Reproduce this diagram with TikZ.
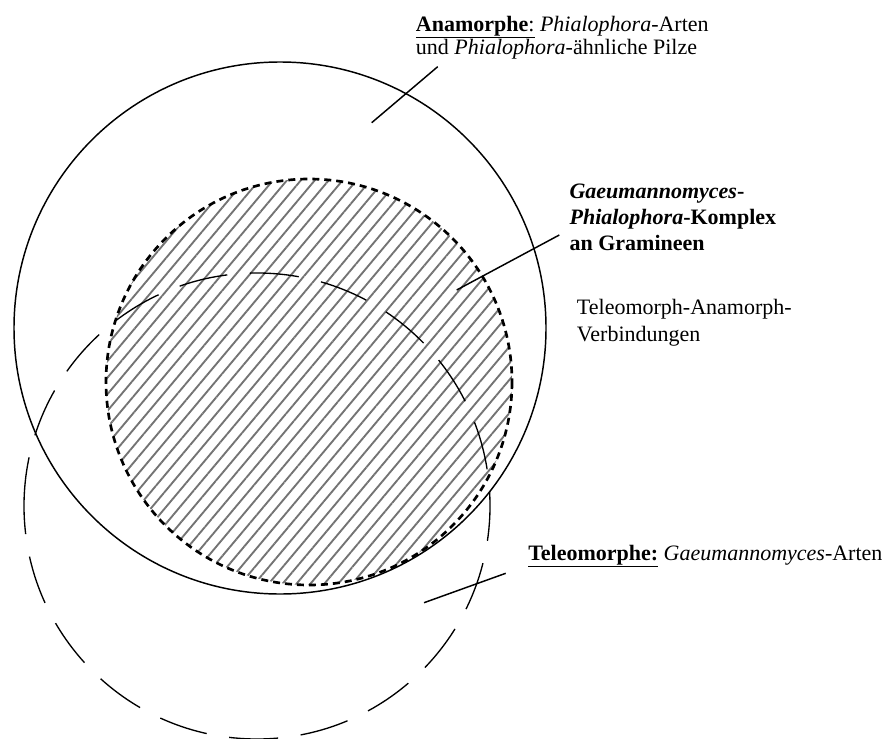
\documentclass[tikz,border=0pt]{standalone}
\usepackage{fontspec}
\setmainfont{Liberation Serif}
\usetikzlibrary{patterns.meta}

\begin{document}
\begin{tikzpicture}[x=0.75pt,y=-0.75pt,
    lbl/.style={anchor=base west,inner sep=0pt,align=left},
    ptr/.style={line width=1.1pt}]
  \useasboundingbox (0,0) rectangle (884,738);
  % Komplex (hatched), then the two big circles
  \fill[pattern={Lines[angle=50,distance=8pt,line width=1.4pt]},pattern color=black!55] (309,382) circle[radius=203];
  \draw[line width=1.1pt] (280,328) circle[radius=266];
  \draw[line width=1pt,dash pattern=on 36.75pt off 17.1pt] (257,506) ++(180:233) arc[start angle=180,end angle=540,radius=233];
  \draw[line width=2pt,dash pattern=on 5.25pt off 3.75pt] (309,382) circle[radius=203];
  % labels (anchored at the baseline of their last line)
  \node[lbl,font=\fontsize{16.5}{15}\selectfont] (ana) at (415.7,55)
    {\underline{\textbf{Anamorphe}:} \textit{Phialophora}-Arten\\und \textit{Phialophora}-ähnliche Pilze};
  \node[lbl,font=\fontsize{16.5}{19.5}\selectfont\bfseries] (gpk) at (569.3,250)
    {\textit{Gaeumannomyces}-\\\textit{Phialophora}-Komplex\\an Gramineen};
  \node[lbl,font=\fontsize{16.5}{20.25}\selectfont] (tav) at (576.7,341)
    {Teleomorph-Anamorph-\\Verbindungen};
  \node[lbl,font=\fontsize{16.5}{15}\selectfont] (tel) at (528,560)
    {\underline{\textbf{Teleomorphe:}} \textit{Gaeumannomyces}-Arten};
  % pointers
  \coordinate (ana-a) at (371.7,122.7);
  \coordinate (ana-b) at (437.7,66.7);
  \coordinate (gpk-a) at (456.7,290);
  \coordinate (gpk-b) at (559.3,235);
  \coordinate (tel-a) at (424,602.7);
  \coordinate (tel-b) at (505.7,573.3);
  \draw[ptr] (ana-a) -- (ana-b);
  \draw[ptr] (gpk-a) -- (gpk-b);
  \draw[ptr] (tel-a) -- (tel-b);
\end{tikzpicture}
\end{document}
